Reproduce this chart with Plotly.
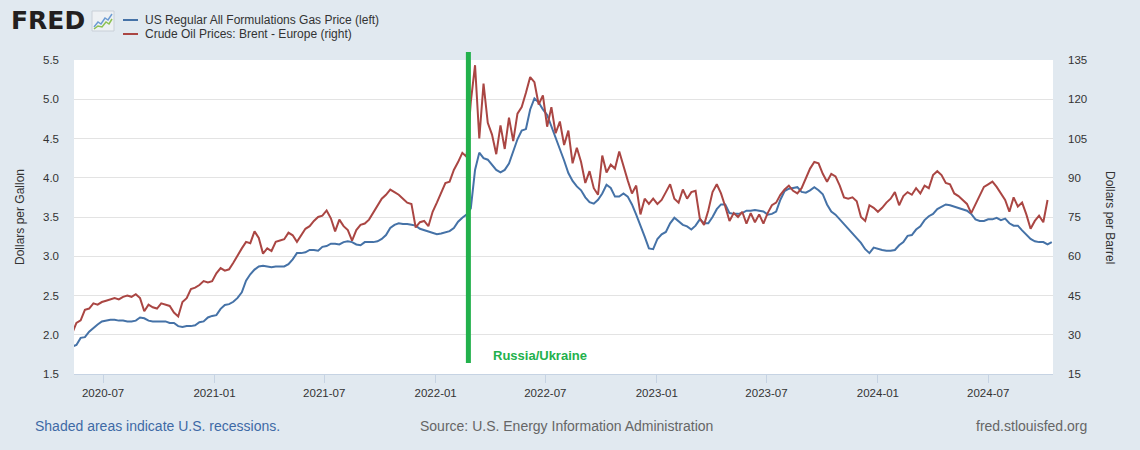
import plotly.graph_objects as go
import pandas as pd

# ---------------- data ----------------
series_names = ["US Regular All Formulations Gas Price (left)",
                "Crude Oil Prices: Brent - Europe (right)"]

gas_dates = pd.date_range("2020-05-11", "2024-10-14", freq="W-MON")
gas_2020 = [1.85, 1.87, 1.96, 1.97, 2.04, 2.09, 2.13, 2.17, 2.18, 2.19, 2.19, 2.18,
            2.18, 2.17, 2.17, 2.18, 2.22, 2.21, 2.18, 2.17, 2.17, 2.17, 2.17, 2.15,
            2.15, 2.11, 2.10, 2.11, 2.11, 2.12, 2.16, 2.17, 2.22, 2.24]
gas_2021 = [2.25, 2.33, 2.38, 2.39, 2.42, 2.47, 2.54, 2.69, 2.77, 2.83,
            2.87, 2.88, 2.87, 2.86, 2.87, 2.87, 2.87, 2.90, 2.96, 3.04,
            3.04, 3.05, 3.08, 3.08, 3.07, 3.12, 3.13, 3.16, 3.16, 3.15,
            3.18, 3.19, 3.18, 3.15, 3.14, 3.18, 3.18, 3.18, 3.19, 3.22,
            3.27, 3.36, 3.40, 3.42, 3.41, 3.41, 3.40, 3.39, 3.35, 3.33,
            3.31, 3.29]
gas_2022 = [3.28, 3.29, 3.31, 3.32, 3.36, 3.44, 3.49, 3.53, 3.61, 4.10,
            4.32, 4.25, 4.23, 4.17, 4.10, 4.07, 4.10, 4.18, 4.33, 4.49,
            4.60, 4.62, 4.87, 5.01, 4.96, 4.87, 4.80, 4.66, 4.52, 4.37,
            4.22, 4.06, 3.96, 3.89, 3.84, 3.75, 3.69, 3.67, 3.72, 3.80,
            3.91, 3.87, 3.76, 3.76, 3.80, 3.76, 3.66, 3.53, 3.40, 3.25,
            3.10, 3.09]
gas_2023 = [3.22, 3.28, 3.31, 3.42, 3.49, 3.44, 3.40, 3.38, 3.34, 3.39,
            3.47, 3.42, 3.42, 3.50, 3.60, 3.66, 3.66, 3.55, 3.54, 3.54,
            3.55, 3.58, 3.58, 3.59, 3.58, 3.57, 3.53, 3.54, 3.57, 3.72,
            3.83, 3.86, 3.87, 3.88, 3.82, 3.81, 3.84, 3.88, 3.84, 3.79,
            3.66, 3.57, 3.53, 3.47, 3.41, 3.35, 3.29, 3.23, 3.17, 3.09,
            3.04, 3.11]
gas_2024 = [3.09, 3.08, 3.07, 3.07, 3.08, 3.14, 3.18, 3.26, 3.27, 3.34,
            3.38, 3.46, 3.51, 3.54, 3.60, 3.63, 3.66, 3.65, 3.63, 3.61,
            3.60, 3.58, 3.54, 3.47, 3.45, 3.45, 3.47, 3.47, 3.49, 3.46,
            3.48, 3.42, 3.39, 3.39, 3.33, 3.28, 3.22, 3.19, 3.18, 3.18,
            3.15, 3.18]
gas_values = gas_2020 + gas_2021 + gas_2022 + gas_2023 + gas_2024

brent_dates = pd.date_range("2020-05-11", "2024-10-07", freq="W-MON")
brent_2020 = [30.5, 34.5, 35.5, 39.5, 40.0, 42.0, 41.5, 42.5, 43.0, 43.5, 44.0, 43.5,
              44.5, 45.0, 44.5, 45.5, 44.0, 39.0, 41.5, 40.5, 40.0, 42.0, 41.5, 41.0,
              38.5, 37.0, 42.5, 44.0, 47.5, 48.0, 49.0, 50.5, 50.0, 50.5]
brent_2021 = [53.5, 55.5, 54.5, 55.0, 57.5, 60.5, 63.0, 65.5, 65.0, 69.5,
              67.0, 61.0, 63.0, 62.0, 65.5, 66.0, 66.5, 69.0, 68.0, 65.5,
              68.0, 70.5, 71.5, 73.5, 75.0, 75.5, 77.5, 74.5, 69.5, 74.0,
              71.5, 70.0, 66.0, 70.0, 72.0, 72.5, 74.0, 76.5, 79.0, 82.0,
              83.5, 85.5, 84.5, 83.5, 82.0, 80.5, 80.0, 71.0, 73.0, 73.5,
              71.5, 77.0]
brent_2022 = [80.5, 84.5, 88.0, 88.5, 93.0, 96.0, 99.5, 98.0, 119.0, 133.0,
              105.0, 126.0, 111.0, 106.5, 99.0, 110.0, 101.0, 113.0, 104.0, 114.5,
              117.0, 122.5, 128.5, 126.5, 118.0, 121.5, 109.5, 117.0, 107.0, 111.5,
              102.5, 108.0, 95.5, 101.5, 96.0, 88.0, 92.5, 86.0, 83.5, 98.5,
              92.0, 95.0, 93.5, 100.0, 94.0, 89.0, 84.0, 87.0, 76.0, 82.0,
              80.0, 82.0]
brent_2023 = [80.0, 81.5, 84.5, 87.5, 82.0, 80.5, 85.5, 82.0, 84.5, 85.0,
              74.5, 72.0, 77.5, 84.5, 87.5, 84.0, 79.0, 73.5, 76.5, 75.0,
              77.0, 72.5, 76.5, 73.0, 76.0, 72.5, 76.5, 79.5, 80.5, 83.5,
              85.5, 87.0, 85.0, 84.0, 86.0, 90.0, 93.5, 96.0, 95.5, 91.5,
              88.5, 91.5, 90.5, 87.0, 82.5, 82.0, 82.5, 81.0, 75.0, 73.5,
              79.5, 78.5]
brent_2024 = [77.0, 78.5, 80.5, 82.0, 84.5, 79.5, 83.0, 84.5, 83.5, 86.0,
              84.0, 87.0, 86.0, 91.0, 92.5, 91.0, 88.0, 87.5, 84.0, 83.0,
              81.5, 80.0, 76.5, 80.0, 83.5, 86.5, 87.5, 88.5, 86.5, 84.0,
              81.5, 77.0, 82.5, 79.0, 80.5, 76.0, 70.5, 73.5, 75.5, 73.0,
              81.5]
brent_values = brent_2020 + brent_2021 + brent_2022 + brent_2023 + brent_2024

event_date = "2022-02-24"
event_label = "Russia/Ukraine"

x_range = ["2020-05-14", "2024-10-16"]
left_ticks = [1.5, 2.0, 2.5, 3.0, 3.5, 4.0, 4.5, 5.0, 5.5]
right_ticks = [15, 30, 45, 60, 75, 90, 105, 120, 135]

# ---------------- layout helpers ----------------
W, H = 1140, 450
ML, MR, MT, MB = 74, 87, 60, 76
PW, PH = W - ML - MR, H - MT - MB


def px(x):
    return (x - ML) / PW


def py(y):
    return (H - MB - y) / PH


BLUE = "#4572a7"
RED = "#aa4643"
GREEN = "#22b14c"
FONT = "Liberation Sans, Arial, sans-serif"

fig = go.Figure()
fig.add_trace(go.Scatter(x=gas_dates, y=gas_values, mode="lines", name=series_names[0],
                         line=dict(color=BLUE, width=2), showlegend=False))
fig.add_trace(go.Scatter(x=brent_dates, y=brent_values, mode="lines", name=series_names[1],
                         line=dict(color=RED, width=2), yaxis="y2", showlegend=False))

tickfont = dict(family=FONT, size=11.5, color="#333333")

fig.update_layout(
    width=W, height=H,
    margin=dict(l=ML, r=MR, t=MT, b=MB, pad=0),
    paper_bgcolor="#e1e9f0",
    plot_bgcolor="#ffffff",
    font=dict(family=FONT, color="#333333"),
    xaxis=dict(range=x_range, type="date", tick0="2020-07-01", dtick="M6",
               tickformat="%Y-%m", showgrid=False, zeroline=False,
               showline=True, linecolor="#c6d3e3", linewidth=1,
               ticks="outside", ticklen=8, tickcolor="#c6d3e3", tickwidth=1,
               tickfont=tickfont),
    yaxis=dict(range=[1.5, 5.5], tickvals=left_ticks, tickformat=".1f",
               showgrid=True, gridcolor="#e3e3e3", gridwidth=1, zeroline=False,
               showline=False, ticks="", ticklabelstandoff=14, tickfont=tickfont),
    yaxis2=dict(range=[15, 135], tickvals=right_ticks, overlaying="y", side="right",
                showgrid=False, zeroline=False, showline=False, ticks="",
                ticklabelstandoff=14, tickfont=tickfont),
)

shapes = []
# event line
shapes.append(dict(type="line", xref="x", yref="paper", x0=event_date, x1=event_date,
                   y0=py(363), y1=py(52), line=dict(color=GREEN, width=5), layer="above"))
# legend swatches
shapes.append(dict(type="line", xref="paper", yref="paper", x0=px(123), x1=px(138),
                   y0=py(20), y1=py(20), line=dict(color=BLUE, width=2)))
shapes.append(dict(type="line", xref="paper", yref="paper", x0=px(123), x1=px(138),
                   y0=py(34), y1=py(34), line=dict(color=RED, width=2)))
# FRED icon
shapes.append(dict(type="rect", xref="paper", yref="paper", x0=px(92), x1=px(114),
                   y0=py(31), y1=py(11), fillcolor="#eef1f4",
                   line=dict(color="#c9d0d8", width=1)))
icon_blue = [(94, 27), (98, 22), (101, 24), (105, 18), (108, 20), (112, 14)]
icon_green = [(94, 29), (98, 26), (102, 27), (106, 22), (109, 24), (112, 19)]
for pts, col in ((icon_blue, "#6c9bd2"), (icon_green, "#8cc152")):
    path = "M " + " L ".join(f"{px(a):.5f},{py(b):.5f}" for a, b in pts)
    shapes.append(dict(type="path", xref="paper", yref="paper", path=path,
                       line=dict(color=col, width=1.5)))
fig.update_layout(shapes=shapes)

ann = []
ann.append(dict(text="<b>FRED</b>", xref="paper", yref="paper", x=px(9), y=py(21),
                xanchor="left", yanchor="middle", showarrow=False,
                font=dict(family="DejaVu Sans, sans-serif", size=25, color="#231f20")))
for i, yy in enumerate((20, 34)):
    ann.append(dict(text=series_names[i], xref="paper", yref="paper", x=px(143), y=py(yy),
                    xanchor="left", yanchor="middle", showarrow=False,
                    font=dict(family=FONT, size=12, color="#333333")))
ann.append(dict(text="Dollars per Gallon", xref="paper", yref="paper", x=px(20), y=0.5,
                textangle=-90, xanchor="center", yanchor="middle", showarrow=False,
                font=dict(family=FONT, size=12, color="#333333")))
ann.append(dict(text="Dollars per Barrel", xref="paper", yref="paper", x=px(1110), y=0.5,
                textangle=90, xanchor="center", yanchor="middle", showarrow=False,
                font=dict(family=FONT, size=12, color="#333333")))
ann.append(dict(text=f"<b>{event_label}</b>", xref="x", yref="paper", x=event_date,
                xshift=23, y=py(355), xanchor="left", yanchor="middle", showarrow=False,
                font=dict(family=FONT, size=13, color=GREEN)))
ann.append(dict(text="Shaded areas indicate U.S. recessions.", xref="paper", yref="paper",
                x=px(33), y=py(426), xanchor="left", yanchor="middle", showarrow=False,
                font=dict(family=FONT, size=14, color="#3e6aa6")))
ann.append(dict(text="Source: U.S. Energy Information Administration", xref="paper",
                yref="paper", x=px(418), y=py(426), xanchor="left", yanchor="middle",
                showarrow=False, font=dict(family=FONT, size=14, color="#666666")))
ann.append(dict(text="fred.stlouisfed.org", xref="paper", yref="paper", x=px(1089),
                y=py(426), xanchor="right", yanchor="middle", showarrow=False,
                font=dict(family=FONT, size=14, color="#666666")))
fig.update_layout(annotations=ann)

fig.write_html("out.html", config={"displayModeBar": False},
               post_script="document.body.style.margin='0';document.body.style.background='#e1e9f0';")
